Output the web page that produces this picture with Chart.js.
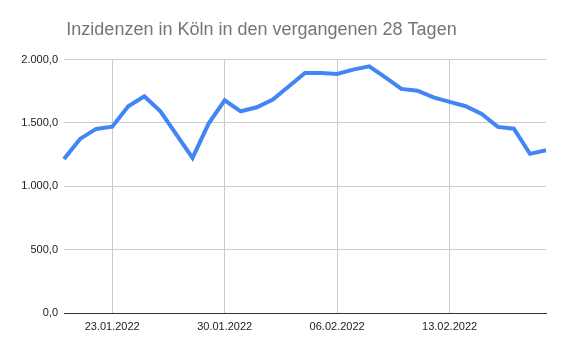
<!DOCTYPE html>
<html>
<head>
<meta charset="utf-8">
<script src="https://cdn.jsdelivr.net/npm/chart.js@4.4.0/dist/chart.umd.min.js"></script>
<style>
  html, body { margin: 0; padding: 0; background: #fff; }
  #wrap { width: 564px; height: 352px; }
</style>
</head>
<body>
<div id="wrap"><canvas id="chart" width="564" height="352"></canvas></div>
<script>
const dates = [
  '20.01.2022','21.01.2022','22.01.2022','23.01.2022','24.01.2022','25.01.2022','26.01.2022',
  '27.01.2022','28.01.2022','29.01.2022','30.01.2022','31.01.2022','01.02.2022','02.02.2022',
  '03.02.2022','04.02.2022','05.02.2022','06.02.2022','07.02.2022','08.02.2022','09.02.2022',
  '10.02.2022','11.02.2022','12.02.2022','13.02.2022','14.02.2022','15.02.2022','16.02.2022',
  '17.02.2022','18.02.2022','19.02.2022'
];
const inzidenz = [
  1216, 1374, 1453, 1471, 1632, 1711, 1592, 1408, 1224, 1495, 1679, 1592, 1624, 1684,
  1790, 1895, 1895, 1887, 1921, 1947, 1860, 1769, 1755, 1702, 1666, 1632, 1571, 1469,
  1455, 1256, 1284
];
const shownDates = ['23.01.2022', '30.01.2022', '06.02.2022', '13.02.2022'];
const yTicks = [0, 500, 1000, 1500, 2000];

const fmt = v => v.toLocaleString('de-DE', { minimumFractionDigits: 1, maximumFractionDigits: 1 });

// title sits a bit left of the canvas centre in the original
const titleShift = {
  id: 'titleShift',
  afterLayout(chart) {
    if (chart.titleBlock) chart.titleBlock.right = chart.titleBlock.left + 523;
  }
};

new Chart(document.getElementById('chart'), {
  type: 'line',
  data: {
    labels: dates,
    datasets: [{
      data: inzidenz,
      borderColor: '#4285f4',
      borderWidth: 4,
      pointRadius: 0,
      tension: 0,
      fill: false
    }]
  },
  plugins: [titleShift],
  options: {
    responsive: false,
    animation: false,
    layout: { padding: { left: 0, right: 18, top: 0, bottom: 0 } },
    plugins: {
      legend: { display: false },
      tooltip: { enabled: false },
      title: {
        display: true,
        text: 'Inzidenzen in Köln in den vergangenen 28 Tagen',
        color: '#757575',
        font: { family: 'Liberation Sans', size: 18, weight: 'normal' },
        padding: { top: 19, bottom: 19 }
      }
    },
    scales: {
      x: {
        offset: false,
        afterFit: s => { s.height = 39; },
        border: { display: true, color: '#333333', width: 1 },
        grid: { color: '#cccccc', drawTicks: false },
        ticks: {
          autoSkip: false,
          maxRotation: 0,
          padding: 7,
          color: '#222222',
          font: { family: 'Liberation Sans', size: 11 },
          callback: function (v, i) {
            const l = dates[i];
            return shownDates.includes(l) ? l : null;
          }
        }
      },
      y: {
        min: 0,
        max: 2000,
        afterFit: s => { s.width = 64; },
        afterBuildTicks: s => { s.ticks = yTicks.map(v => ({ value: v })); },
        border: { display: false },
        grid: { color: '#cccccc', drawTicks: false },
        ticks: {
          padding: 6,
          color: '#222222',
          font: { family: 'Liberation Sans', size: 11 },
          callback: v => fmt(v)
        }
      }
    }
  }
});
</script>
</body>
</html>
